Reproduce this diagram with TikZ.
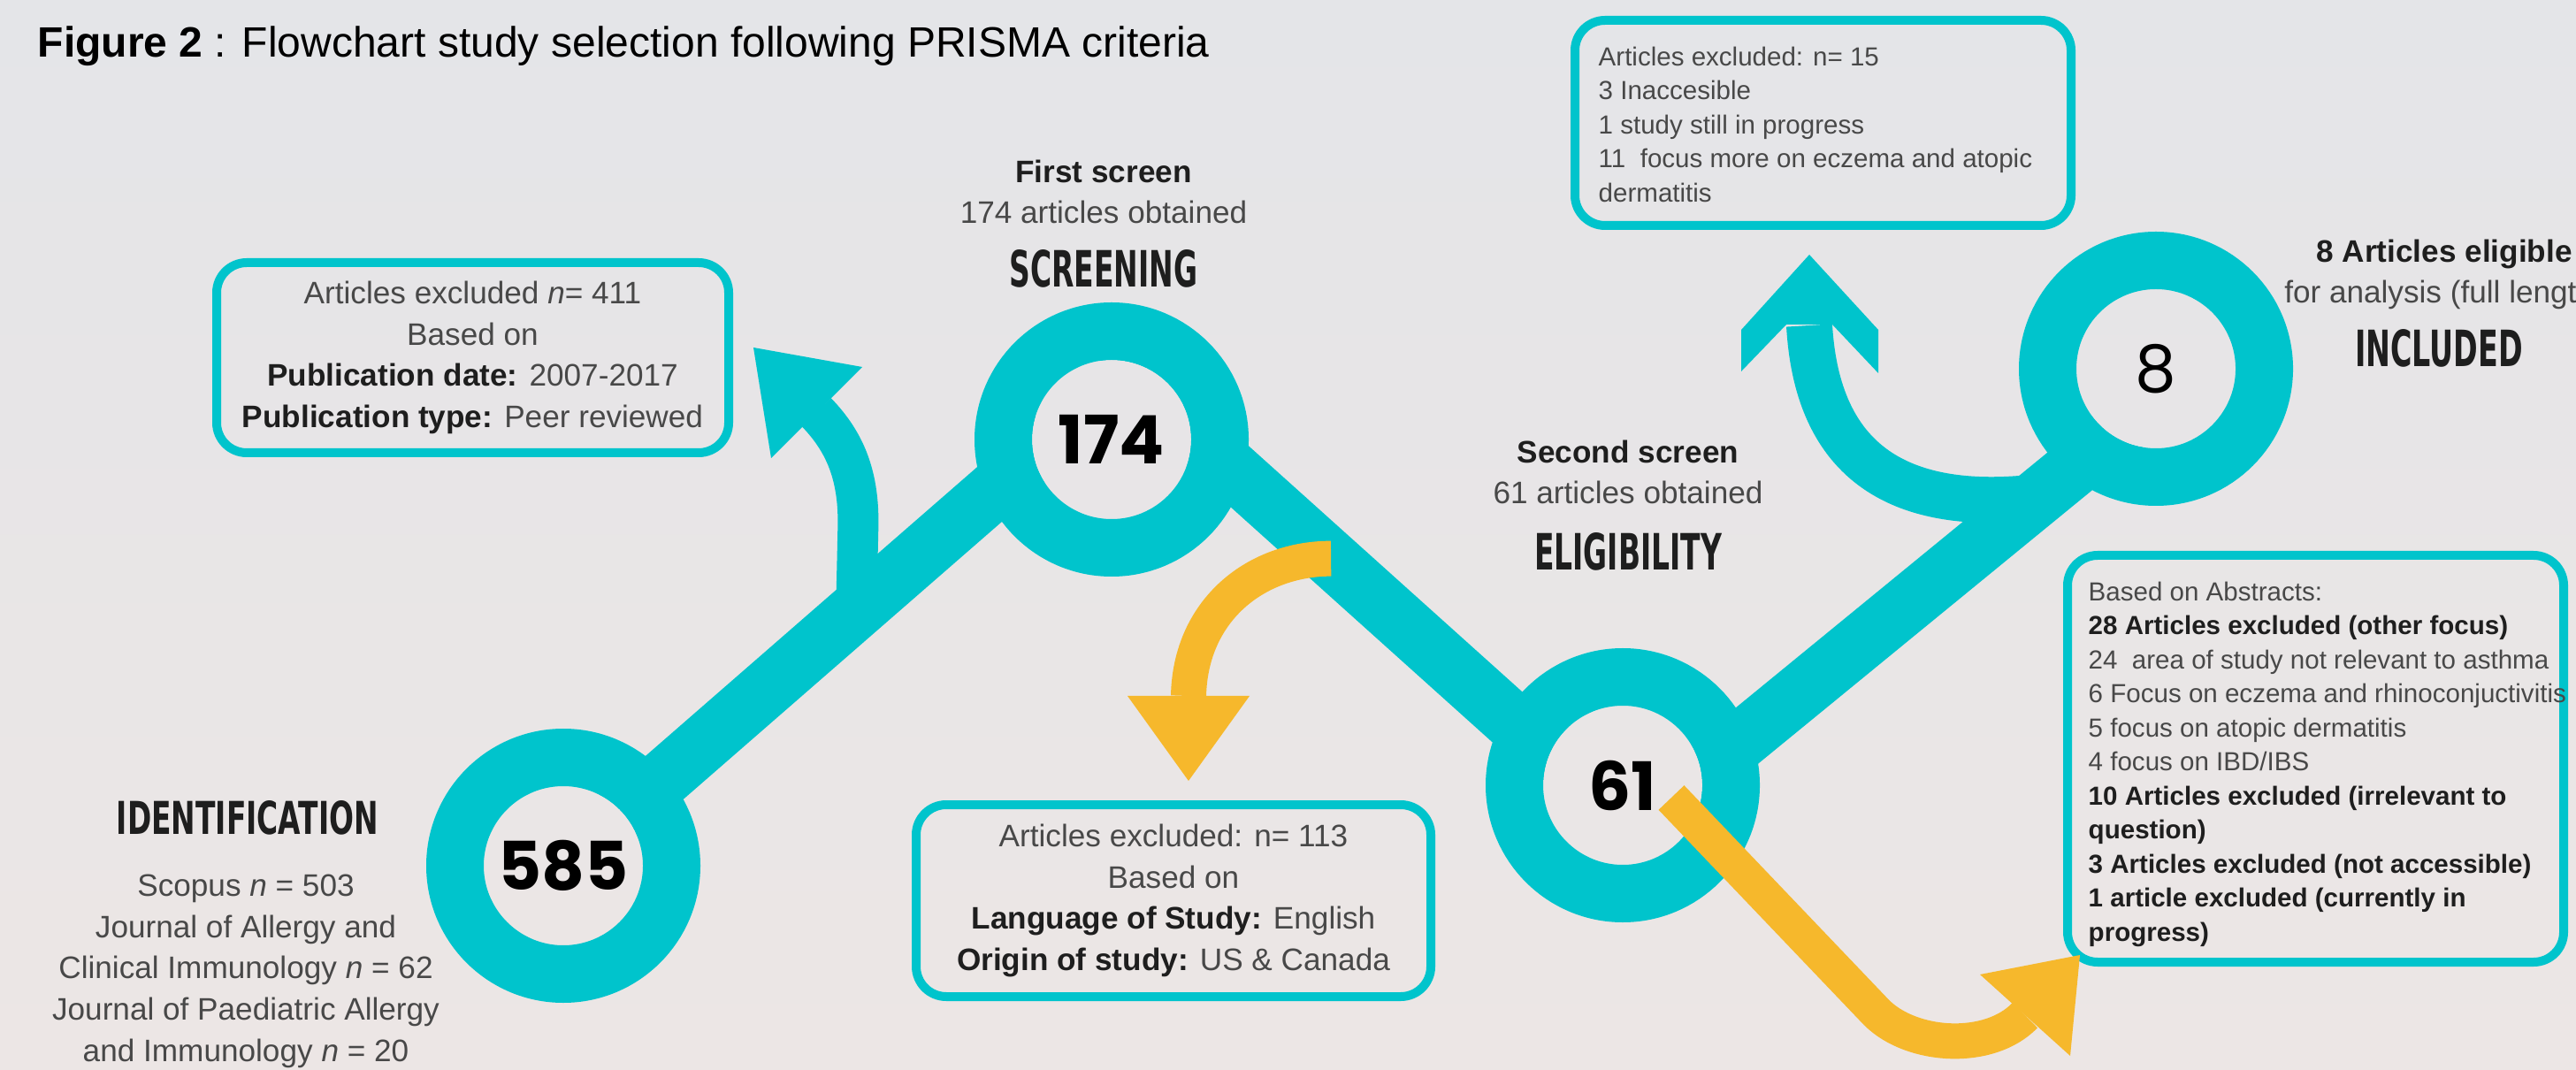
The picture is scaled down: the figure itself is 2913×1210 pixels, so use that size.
\documentclass[tikz,border=0pt]{standalone}
\usepackage{graphicx}
\usepackage{fontspec}
\setmainfont{Liberation Sans}
\newfontfamily\numfont{Poppins}
\newfontfamily\headfont{DejaVu Sans}
\usetikzlibrary{calc}

% one pixel of the drawing grid
\newlength\pxu
\setlength\pxu{0.01cm}

\definecolor{roadteal}{HTML}{00C4CC}
\definecolor{arrowgold}{HTML}{F6B82C}
\definecolor{paperTop}{HTML}{E4E5E8}
\definecolor{paperBot}{HTML}{ECE6E5}
\definecolor{inkbold}{HTML}{1E1E1E}
\definecolor{inkreg}{HTML}{484848}

\newcommand\boldink[1]{\textbf{\color{inkbold}#1}}
\newcommand\phasehead[3]{\resizebox{#1\pxu}{#2\pxu}{\headfont\bfseries #3}}

\tikzset{
  road/.style={draw=roadteal, line width=65\pxu, line join=round},
  ring/.style={circle, draw=roadteal, line width=65\pxu, minimum size=245\pxu,
    inner sep=0pt, text=black, font=\numfont\bfseries\fontsize{21.5}{21.5}\selectfont},
  tealstem/.style={draw=roadteal, line width=48\pxu},
  goldstem/.style={draw=arrowgold, line width=40\pxu},
  exbox/.style={draw=roadteal, line width=10\pxu, rounded corners=34\pxu, inner sep=0pt},
  bigtext/.style={inner sep=0pt, text=inkreg, align=center, font=\fontsize{10}{13.3}\selectfont},
  smalltext/.style={inner sep=0pt, text=inkreg, align=left, font=\fontsize{8.4}{10.95}\selectfont},
  phase/.style={inner sep=0pt, anchor=base, text=inkbold},
}

\begin{document}
\begin{tikzpicture}[x=0.01cm, y=-0.01cm]
\useasboundingbox (0,0) rectangle (2913,1210);
\shade[top color=paperTop, bottom color=paperBot] (0,0) rectangle (2913,1210);

% stage centres and bends of the path
\coordinate (p585) at (637,979);
\coordinate (p174) at (1257,497);
\coordinate (p61)  at (1835,888);
\coordinate (p8)   at (2438,417);
\coordinate (v1) at (1274,424);
\coordinate (v2) at (1846,938);
\coordinate (v3) at (2420,468);

% the zig-zag path
\draw[road] (p585) -- (v1) -- (v2) -- (v3);

% paper showing through the rings
\begin{scope}
  \clip (p585) circle (90) (p174) circle (90) (p61) circle (90) (p8) circle (90);
  \shade[top color=paperTop, bottom color=paperBot] (0,0) rectangle (2913,1210);
\end{scope}

% stage rings
\node[ring] (n585) at (p585) {585};
\node[ring] (n174) at (p174) {174};
\node[ring] (n61)  at (p61)  {61};
\node[ring, font=\numfont\fontsize{21}{21}\selectfont] (n8) at (p8) {8};

% exclusion boxes
\node[exbox, minimum width=579\pxu, minimum height=215\pxu] (b411) at (534.5,404.5) {};
\node[bigtext] (t411) at (b411) {Articles excluded \textit{n}= 411\\Based on\\
  \boldink{Publication date:} 2007-2017\\\boldink{Publication type:} Peer reviewed};

\node[exbox, minimum width=582\pxu, minimum height=217\pxu] (b113) at (1327,1018.5) {};
\node[bigtext] (t113) at (b113) {Articles excluded: n= 113\\Based on\\
  \boldink{Language of Study:} English\\\boldink{Origin of study:} US \& Canada};

\node[exbox, minimum width=561\pxu, minimum height=232\pxu] (b15) at (2061.5,139) {};
\node[smalltext, anchor=north west] (t15) at (1807,52) {Articles excluded: n= 15\\
  3 Inaccesible\\1 study still in progress\\11\ \ focus more on eczema and atopic\\dermatitis};

\node[exbox, minimum width=561\pxu, minimum height=460\pxu] (babs) at (2618.5,858) {};
\node[smalltext, anchor=north west] (tabs) at (2361,657) {Based on Abstracts:\\
  \boldink{28 Articles excluded (other focus)}\\
  24\ \ area of study not relevant to asthma\\
  6 Focus on eczema and rhinoconjuctivitis\\
  5 focus on atopic dermatitis\\
  4 focus on IBD/IBS\\
  \boldink{10 Articles excluded (irrelevant to}\\
  \boldink{question)}\\
  \boldink{3 Articles excluded (not accessible)}\\
  \boldink{1 article excluded (currently in}\\
  \boldink{progress)}};

% teal arrow towards the first exclusion box
\coordinate (a1s) at ($(p585)!0.52!(v1)$);
\coordinate (a1b) at (923,466);
\draw[tealstem, line width=46\pxu] (a1s) -- ++(2,-90) .. controls +(2,-60) and (957,501) .. (a1b);
\fill[roadteal] (852,393) -- (975,415) -- (872,518) -- cycle;

% teal arrow towards the full-text exclusion box
\coordinate (a2s) at ($(v2)!0.8!(v3)$);
\coordinate (a2b) at (2046,368);
\draw[tealstem, line width=52\pxu] (a2s) .. controls (2150,580) and (2055,525) .. (a2b);
\fill[roadteal] (2046,288) -- (2124,373) -- (2124,422) -- (2072,367) -- (2020,367)
  -- (1969,420) -- (1969,373) -- cycle;

% gold arrow towards the screening exclusions
\coordinate (y1s) at ($(v1)!0.404!(v2)$);
\coordinate (y1b) at (1344,787);
\draw[goldstem] (y1s) .. controls +(-85,0) and (1346,690) .. (y1b);
\fill[arrowgold] (1275,787) -- (1413,787) -- (1344,883) -- cycle;

% gold arrow towards the abstract exclusions
\coordinate (y2s) at (1890,902);
\coordinate (y2b) at (2290,1148);
\draw[goldstem] (y2s) -- (2122,1145) .. controls (2162,1185) and (2250,1190) .. (y2b);
\fill[arrowgold] (2352,1080) -- (2341,1194) -- (2239,1102) -- cycle;

% stage labels
\node[phase] (hIdent) at (280,943) {\phasehead{296}{38}{IDENTIFICATION}};
\node[bigtext, anchor=north] (tIdent) at (278,988) {Scopus \textit{n} = 503\\Journal of Allergy and\\
  Clinical Immunology \textit{n} = 62\\Journal of Paediatric Allergy\\and Immunology \textit{n} = 20};

\node[bigtext, anchor=north] (tScreen) at (1248,180) {\boldink{First screen}\\174 articles obtained};
\node[phase] (hScreen) at (1248,325) {\phasehead{213}{42}{SCREENING}};

\node[bigtext, anchor=north] (tElig) at (1841,497) {\boldink{Second screen}\\61 articles obtained};
\node[phase] (hElig) at (1841,645) {\phasehead{212}{42}{ELIGIBILITY}};

\node[bigtext, anchor=north] (tIncl) at (2764,270) {\boldink{8 Articles eligible}\\for analysis (full length)};
\node[phase] (hIncl) at (2758,415) {\phasehead{190}{42}{INCLUDED}};

% caption
\node[anchor=base west, inner sep=0pt, text=black, font=\fontsize{13.65}{16}\selectfont] (title) at (42,65)
  {\textbf{Figure 2} : Flowchart study selection following PRISMA criteria};
\end{tikzpicture}
\end{document}
